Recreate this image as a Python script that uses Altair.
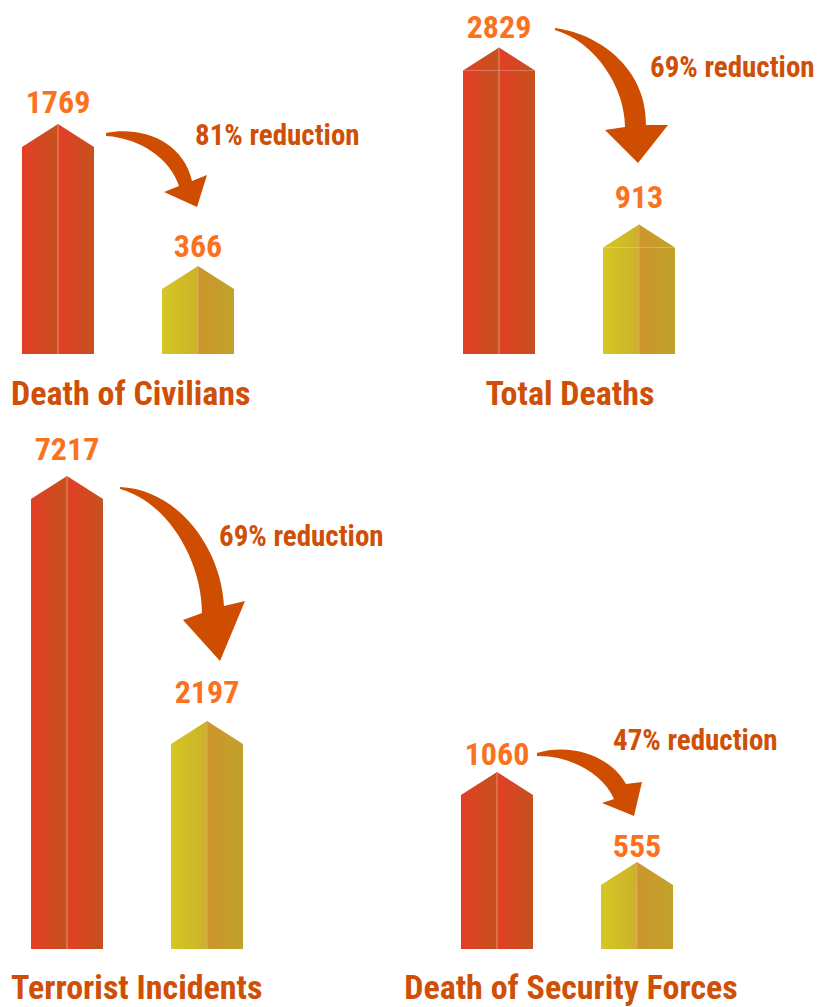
import altair as alt
import pandas as pd

# ---------------- data ----------------
CATEGORIES = ["Death of Civilians", "Total Deaths", "Terrorist Incidents", "Death of Security Forces"]
PERIODS = ["Before", "After"]
BEFORE = [1769, 2829, 7217, 1060]
AFTER = [366, 913, 2197, 555]
REDUCTION = ["81% reduction", "69% reduction", "69% reduction", "47% reduction"]

# ---------------- styles ----------------
FONT = "Roboto Condensed, DejaVu Sans Condensed, sans-serif"
ORANGE = "#FB721E"
DARK = "#CF4F06"
ARROW = "#CF4D00"
SEAM = "#F2A27E"


def grad(c0, c1):
    return alt.Gradient(gradient="linear", x1=0, x2=1, y1=0, y2=0,
                        stops=[alt.GradientStop(color=c0, offset=0),
                               alt.GradientStop(color=c1, offset=1)])


RED_G = grad("#E33E25", "#C4521E")
YEL_L = grad("#D5C724", "#CBB22A")
YEL_R = grad("#CC952C", "#C2A22A")

ROOF_L = "M-36,0 L0,-23 L0,0 Z"
ROOF_R = "M0,-23 L36,0 L0,0 Z"
ROOF_SEAM = "M0,0 L0,-23"

STEP = 140
BAND = 72

# arrow glyphs, drawn relative to their tip
ARROWS = [
    [("M", -91, -74), ("C", -55, -81, -14, -66, -5, -26), ("L", 10, -32), ("L", 0, 0),
     ("L", -33, -15), ("L", -18, -21), ("C", -26, -47, -56, -69, -91, -71)],
    [("M", -83, -135), ("C", -33, -128, 9, -90, 8, -38), ("L", 30, -38), ("L", 0, 0),
     ("L", -33, -33), ("L", -13, -36), ("C", -13, -75, -42, -121, -83, -133)],
    [("M", -100, -174), ("C", -44, -172, 1, -115, 4, -55), ("L", 25, -60), ("L", 0, 0),
     ("L", -37, -41), ("L", -18, -48), ("C", -18, -100, -52, -159, -100, -172)],
    [("M", -97, -63), ("C", -64, -73, -24, -61, -8, -32), ("L", 8, -34), ("L", 0, 0),
     ("L", -32, -13), ("L", -20, -17), ("C", -31, -43, -66, -61, -97, -60)],
]
ARROW_TIP = [(-1, -82), (-1, -84.5), (13, -83), (-3, -69)]


def arrow_path(cmds, ox, oy):
    parts = []
    for c in cmds:
        nums = c[1:]
        pts = []
        for j in range(0, len(nums), 2):
            pts.append(f"{nums[j] + ox:g},{nums[j + 1] + oy:g}")
        parts.append(c[0] + " ".join(pts))
    return " ".join(parts) + " Z"


# per-panel layout styles
PANEL = [
    dict(domain=[-276, 3143], outer=14, height=346, anchor="start", tdx=3, toff=50,
         ldy=(-34, -32), ndx=-3, ndy=-2),
    dict(domain=[-240, 3505], outer=20, height=346, anchor="middle", tdx=1, toff=50,
         ldy=(-32.5, -39.5), ndx=11, ndy=7),
    dict(domain=[-2003, 8836], outer=23, height=529, anchor="start", tdx=3, toff=49,
         ldy=(-39, -41), ndx=12, ndy=47),
    dict(domain=[196, 3164], outer=18, height=529, anchor="middle", tdx=4, toff=49,
         ldy=(-30, -28), ndx=-24, ndy=-45),
]

NUM_SIZE = 32
NOTE_SIZE = 29
TITLE_SIZE = 34


def panel(i):
    p = PANEL[i]
    df = pd.DataFrame({"period": PERIODS, "value": [BEFORE[i], AFTER[i]]})
    note = pd.DataFrame({"period": ["After"], "ref": [BEFORE[i]], "note": [REDUCTION[i]]})
    lo = p["domain"][0]
    width = 2 * p["outer"] + STEP * 2 - (STEP - BAND)
    xs = alt.Scale(domain=PERIODS, paddingInner=(STEP - BAND) / STEP, paddingOuter=p["outer"] / STEP)
    ys = alt.Scale(domain=p["domain"], zero=False, nice=False)
    x = alt.X("period:N", sort=PERIODS, axis=None, scale=xs)
    y = alt.Y("value:Q", axis=None, scale=ys)
    base = alt.Chart(df).encode(x=x, y=y)
    red = base.transform_filter(alt.datum.period == "Before")
    yel = base.transform_filter(alt.datum.period == "After")
    y2 = alt.Y2Datum(lo)

    def roof(src, path, g):
        return src.mark_point(shape=path, size=4, filled=True, opacity=1, strokeWidth=0, color=g)

    def label(src, dy):
        return src.mark_text(dy=dy, fontSize=NUM_SIZE, fontWeight="bold", font=FONT, color=ORANGE,
                             baseline="alphabetic").encode(text=alt.Text("value:Q", format="d"))

    layers = [
        red.mark_bar(width=BAND / 2, xOffset=-BAND / 4, color=RED_G).encode(y2=y2),
        red.mark_bar(width=BAND / 2, xOffset=BAND / 4, color=RED_G).encode(y2=y2),
        roof(red, ROOF_L, RED_G),
        roof(red, ROOF_R, RED_G),
        yel.mark_bar(width=BAND / 2, xOffset=-BAND / 4, color=YEL_L).encode(y2=y2),
        yel.mark_bar(width=BAND / 2, xOffset=BAND / 4, color=YEL_R).encode(y2=y2),
        roof(yel, ROOF_L, YEL_L),
        roof(yel, ROOF_R, YEL_R),
        base.mark_rule(color=SEAM, strokeWidth=1, opacity=0.8).encode(y2=y2),
        base.mark_point(shape=ROOF_SEAM, size=4, filled=False, opacity=0.8, strokeWidth=1, color=SEAM),
        label(red, p["ldy"][0]),
        label(yel, p["ldy"][1]),
        yel.mark_point(shape=arrow_path(ARROWS[i], *ARROW_TIP[i]), size=4, filled=True, opacity=1,
                       strokeWidth=0, color=ARROW),
        alt.Chart(note).mark_text(dx=p["ndx"], dy=p["ndy"], align="left", baseline="alphabetic",
                                  fontSize=NOTE_SIZE, fontWeight="bold", font=FONT, color=DARK).encode(
            x=x, y=alt.Y("ref:Q", axis=None, scale=ys), text="note:N"),
    ]
    return alt.layer(*layers).properties(
        width=width, height=p["height"],
        title=alt.TitleParams(CATEGORIES[i], orient="bottom", anchor=p["anchor"], offset=p["toff"],
                              dx=p["tdx"], baseline="alphabetic", fontSize=TITLE_SIZE,
                              fontWeight="bold", font=FONT, color=DARK),
    )


chart = alt.concat(
    panel(0), panel(1), panel(2), panel(3),
    columns=2, spacing={"row": 66, "column": 177}, bounds="flush",
).resolve_scale(x="independent", y="independent").properties(padding=0).configure_view(stroke=None)

chart.save("out.html", embed_options={"renderer": "svg", "actions": False})
